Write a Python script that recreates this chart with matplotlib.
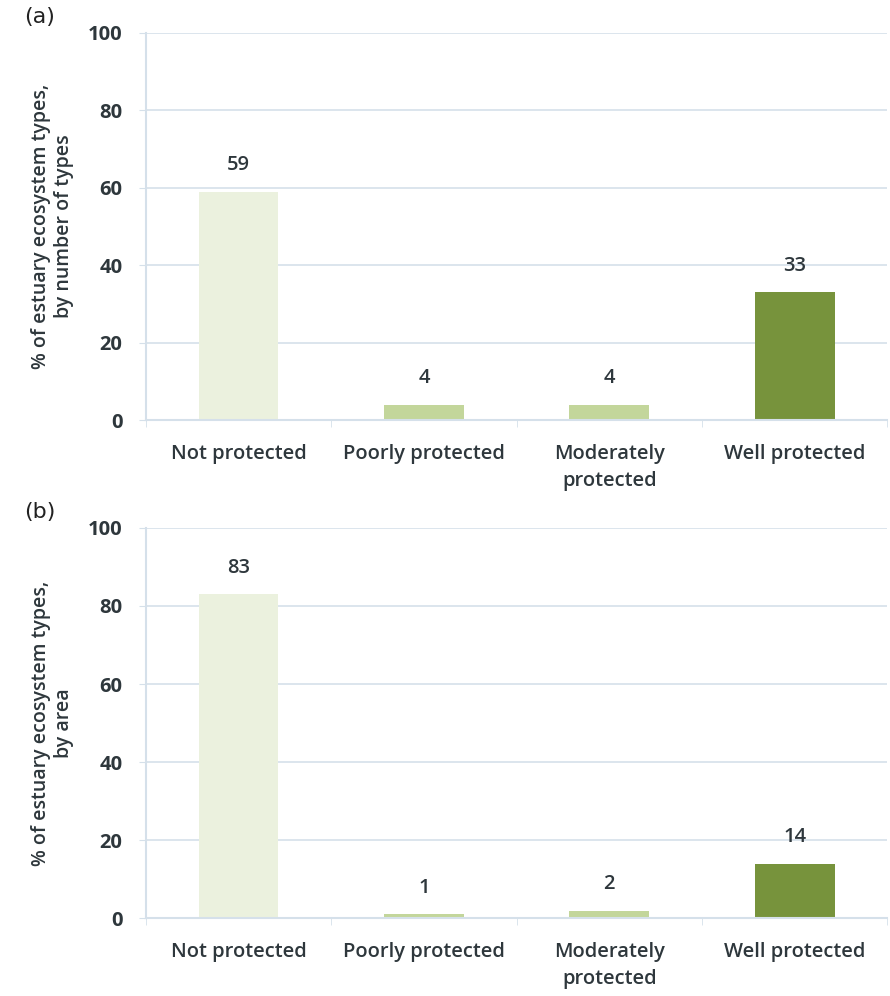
import numpy as np
import matplotlib
matplotlib.use("Agg")
import matplotlib.pyplot as plt

categories = ["Not protected", "Poorly protected", "Moderately\nprotected", "Well protected"]
pct_by_number = [59, 4, 4, 33]
pct_by_area = [83, 1, 2, 14]
yticks = [0, 20, 40, 60, 80, 100]

COLORS = ["#ebf1de", "#c3d69b", "#c3d69b", "#77933c"]
GRID = "#d5e0ea"
TEXT = "#2e373c"

plt.rcParams["font.family"] = ["Open Sans", "DejaVu Sans"]

fig = plt.figure(figsize=(8.9, 9.96), dpi=100)
ax_a = fig.add_axes([0.164, 0.578, 0.833, 0.389])
ax_b = fig.add_axes([0.164, 0.078, 0.833, 0.392])


def draw_panel(ax, values, ylabel, letter):
    x = np.arange(len(categories))
    ax.bar(x, values, width=0.43, color=COLORS, zorder=2)
    ax.set_xlim(-0.5, len(categories) - 0.5)
    ax.set_ylim(0, 100)
    ax.set_yticks(yticks)
    ax.set_yticklabels([str(t) for t in yticks], fontsize=14.5,
                       fontweight="bold", color=TEXT)
    ax.set_xticks(x)
    ax.set_xticklabels(categories, fontsize=14.5, fontweight="semibold",
                       color=TEXT, linespacing=1.45)
    ax.set_xticks(np.arange(len(categories) + 1) - 0.5, minor=True)
    ax.tick_params(axis="x", which="major", length=0, pad=17)
    ax.tick_params(axis="x", which="minor", length=5, color=GRID)
    ax.tick_params(axis="y", length=5, color=GRID, pad=12)
    ax.grid(True, axis="y", color=GRID, linewidth=1.2, zorder=0)
    for side in ["top", "right"]:
        ax.spines[side].set_visible(False)
    for side in ["left", "bottom"]:
        ax.spines[side].set_color(GRID)
        ax.spines[side].set_linewidth(1.5)
    ax.set_ylabel(ylabel, fontsize=14, fontweight="semibold", color=TEXT,
                  labelpad=10, linespacing=1.2)
    for xi, v in zip(x, values):
        ax.annotate(f"{v}", xy=(xi, v), xytext=(0, 12), textcoords="offset points",
                    ha="center", va="bottom", fontsize=14.5,
                    fontweight="semibold", color=TEXT)
    ax.text(-0.165, 1.04, letter, transform=ax.transAxes, fontsize=16,
            color="#222222", ha="left", va="center", family="DejaVu Sans")


draw_panel(ax_a, pct_by_number, "% of estuary ecosystem types,\nby number of types", "(a)")
draw_panel(ax_b, pct_by_area, "% of estuary ecosystem types,\nby area", "(b)")

fig.savefig("out.png", dpi=100)
